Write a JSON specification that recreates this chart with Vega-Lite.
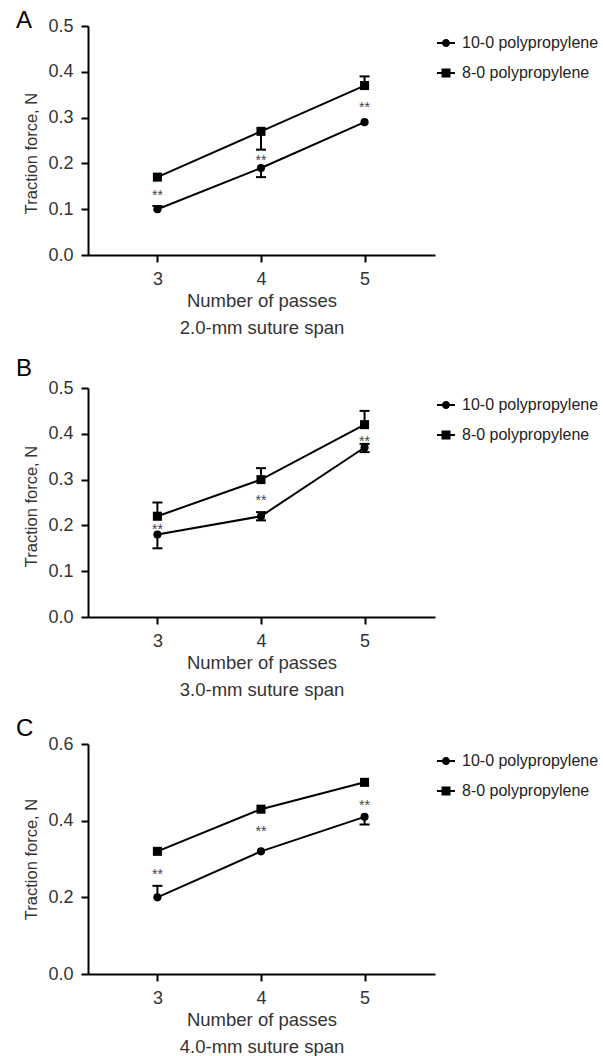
{
  "$schema": "https://vega.github.io/schema/vega-lite/v6.json",
  "padding": {"left": 15, "top": 9, "right": 3, "bottom": 0},
  "background": "white",
  "config": {
    "view": {"stroke": null},
    "font": "Liberation Sans",
    "axis": {"domainColor": "#000", "domainWidth": 2, "tickColor": "#000", "tickWidth": 2, "tickSize": 7, "labelFontSize": 18, "labelColor": "#333", "titleFontWeight": "normal", "titleColor": "#333", "grid": false, "labelFont": "Liberation Sans", "titleFont": "Liberation Sans"},
    "axisX": {"labelPadding": 8, "titlePadding": 3, "titleLineHeight": 27, "titleFontSize": 18.5},
    "axisY": {"labelPadding": 8, "titlePadding": 8, "titleFontSize": 16.5},
    "title": {"font": "Liberation Sans", "fontSize": 24, "fontWeight": "normal", "color": "#000", "anchor": "start", "frame": "bounds", "baseline": "alphabetic", "offset": 0},
    "legend": {"labelFont": "Liberation Sans", "labelFontSize": 16, "labelColor": "#222", "symbolSize": 144, "symbolFillColor": "#000", "symbolStrokeColor": "#000", "symbolStrokeWidth": 0, "symbolOpacity": 1, "labelOffset": 8, "rowPadding": 14, "padding": 0}
  },
  "datasets": {
    "main": [
      {"panel": "A", "series": "10-0 polypropylene", "passes": 3, "force": 0.10},
      {"panel": "A", "series": "10-0 polypropylene", "passes": 4, "force": 0.19},
      {"panel": "A", "series": "10-0 polypropylene", "passes": 5, "force": 0.29},
      {"panel": "A", "series": "8-0 polypropylene", "passes": 3, "force": 0.17},
      {"panel": "A", "series": "8-0 polypropylene", "passes": 4, "force": 0.27},
      {"panel": "A", "series": "8-0 polypropylene", "passes": 5, "force": 0.37},
      {"panel": "B", "series": "10-0 polypropylene", "passes": 3, "force": 0.18},
      {"panel": "B", "series": "10-0 polypropylene", "passes": 4, "force": 0.22},
      {"panel": "B", "series": "10-0 polypropylene", "passes": 5, "force": 0.37},
      {"panel": "B", "series": "8-0 polypropylene", "passes": 3, "force": 0.22},
      {"panel": "B", "series": "8-0 polypropylene", "passes": 4, "force": 0.30},
      {"panel": "B", "series": "8-0 polypropylene", "passes": 5, "force": 0.42},
      {"panel": "C", "series": "10-0 polypropylene", "passes": 3, "force": 0.20},
      {"panel": "C", "series": "10-0 polypropylene", "passes": 4, "force": 0.32},
      {"panel": "C", "series": "10-0 polypropylene", "passes": 5, "force": 0.41},
      {"panel": "C", "series": "8-0 polypropylene", "passes": 3, "force": 0.32},
      {"panel": "C", "series": "8-0 polypropylene", "passes": 4, "force": 0.43},
      {"panel": "C", "series": "8-0 polypropylene", "passes": 5, "force": 0.50}
    ],
    "err": [
      {"panel": "A", "series": "10-0 polypropylene", "passes": 3, "mean": 0.10, "tip": 0.107},
      {"panel": "A", "series": "10-0 polypropylene", "passes": 4, "mean": 0.19, "tip": 0.17},
      {"panel": "A", "series": "8-0 polypropylene", "passes": 4, "mean": 0.27, "tip": 0.23},
      {"panel": "A", "series": "8-0 polypropylene", "passes": 5, "mean": 0.37, "tip": 0.39},
      {"panel": "B", "series": "10-0 polypropylene", "passes": 3, "mean": 0.18, "tip": 0.15},
      {"panel": "B", "series": "10-0 polypropylene", "passes": 4, "mean": 0.22, "tip": 0.211},
      {"panel": "B", "series": "10-0 polypropylene", "passes": 4, "mean": 0.22, "tip": 0.229},
      {"panel": "B", "series": "10-0 polypropylene", "passes": 5, "mean": 0.37, "tip": 0.36},
      {"panel": "B", "series": "10-0 polypropylene", "passes": 5, "mean": 0.37, "tip": 0.378},
      {"panel": "B", "series": "8-0 polypropylene", "passes": 3, "mean": 0.22, "tip": 0.25},
      {"panel": "B", "series": "8-0 polypropylene", "passes": 4, "mean": 0.30, "tip": 0.325},
      {"panel": "B", "series": "8-0 polypropylene", "passes": 5, "mean": 0.42, "tip": 0.45},
      {"panel": "C", "series": "10-0 polypropylene", "passes": 3, "mean": 0.20, "tip": 0.23},
      {"panel": "C", "series": "10-0 polypropylene", "passes": 5, "mean": 0.41, "tip": 0.39}
    ],
    "stars": [
      {"panel": "A", "passes": 3, "y": 0.137},
      {"panel": "A", "passes": 4, "y": 0.213},
      {"panel": "A", "passes": 5, "y": 0.329},
      {"panel": "B", "passes": 3, "y": 0.198},
      {"panel": "B", "passes": 4, "y": 0.263},
      {"panel": "B", "passes": 5, "y": 0.391},
      {"panel": "C", "passes": 3, "y": 0.268},
      {"panel": "C", "passes": 4, "y": 0.381},
      {"panel": "C", "passes": 5, "y": 0.449}
    ]
  },
  "bounds": "flush",
  "spacing": 133,
  "resolve": {"scale": {"x": "independent", "y": "independent", "shape": "independent"}, "legend": {"shape": "independent"}},
  "vconcat": [
    {
      "width": 347, "height": 229,
      "title": {"text": "A", "dx": -8, "dy": 20},
      "layer": [
        {"data": {"name": "main"}, "transform": [{"filter": "datum.panel === 'A'"}],
         "mark": {"type": "line", "color": "#000", "strokeWidth": 2},
         "encoding": {
           "x": {"field": "passes", "type": "quantitative", "scale": {"domain": [2.33, 5.68], "nice": false, "zero": false}, "axis": {"values": [3, 4, 5], "format": "d", "title": ["Number of passes", "2.0-mm suture span"]}},
           "y": {"field": "force", "type": "quantitative", "scale": {"domain": [0, 0.5], "nice": false}, "axis": {"values": [0, 0.1, 0.2, 0.3, 0.4, 0.5], "format": ".1f", "title": "Traction force, N", "titleY": 127}},
           "detail": {"field": "series"}}},
        {"data": {"name": "err"}, "transform": [{"filter": "datum.panel === 'A'"}],
         "mark": {"type": "rule", "color": "#000", "strokeWidth": 2},
         "encoding": {"x": {"field": "passes", "type": "quantitative"}, "y": {"field": "mean", "type": "quantitative"}, "y2": {"field": "tip"}}},
        {"data": {"name": "err"}, "transform": [{"filter": "datum.panel === 'A'"}],
         "mark": {"type": "tick", "color": "#000", "orient": "horizontal", "size": 10, "thickness": 2, "opacity": 1},
         "encoding": {"x": {"field": "passes", "type": "quantitative"}, "y": {"field": "tip", "type": "quantitative"}}},
        {"data": {"name": "main"}, "transform": [{"filter": "datum.panel === 'A'"}],
         "mark": {"type": "point", "filled": true, "color": "#000", "opacity": 0},
         "encoding": {
           "x": {"field": "passes", "type": "quantitative"},
           "y": {"field": "force", "type": "quantitative"},
           "shape": {"field": "series", "type": "nominal", "scale": {"domain": ["10-0 polypropylene", "8-0 polypropylene"], "range": ["M-1.5,-0.167H-0.6V0.167H-1.5Z M0.6,-0.167H1.5V0.167H0.6Z M0.67,0A0.67,0.67,0,1,1,-0.67,0A0.67,0.67,0,1,1,0.67,0Z", "M-1.5,-0.167H-0.7V0.167H-1.5Z M0.7,-0.167H1.5V0.167H0.7Z M-0.75,-0.75H0.75V0.75H-0.75Z"]},
             "legend": {"orient": "none", "legendX": 350, "legendY": 9, "title": null, "symbolOpacity": 1, "symbolSize": 144, "symbolFillColor": "#000"}}}},
        {"data": {"name": "main"}, "transform": [{"filter": "datum.panel === 'A' && datum.series === '10-0 polypropylene'"}],
         "mark": {"type": "point", "shape": "circle", "filled": true, "color": "#000", "opacity": 1, "size": 66},
         "encoding": {"x": {"field": "passes", "type": "quantitative"}, "y": {"field": "force", "type": "quantitative"}}},
        {"data": {"name": "main"}, "transform": [{"filter": "datum.panel === 'A' && datum.series === '8-0 polypropylene'"}],
         "mark": {"type": "point", "shape": "square", "filled": true, "color": "#000", "opacity": 1, "size": 82},
         "encoding": {"x": {"field": "passes", "type": "quantitative"}, "y": {"field": "force", "type": "quantitative"}}},
        {"data": {"name": "stars"}, "transform": [{"filter": "datum.panel === 'A'"}],
         "mark": {"type": "text", "text": "**", "fontSize": 14, "color": "#444", "baseline": "alphabetic", "dy": 8},
         "encoding": {"x": {"field": "passes", "type": "quantitative"}, "y": {"field": "y", "type": "quantitative"}}}
      ]
    },
    {
      "bounds": "flush",
      "spacing": 127,
      "resolve": {"scale": {"x": "independent", "y": "independent", "shape": "independent"}, "legend": {"shape": "independent"}},
      "vconcat": [
        {
          "width": 347, "height": 229,
          "title": {"text": "B", "dx": -8, "dy": 6},
          "layer": [
            {"data": {"name": "main"}, "transform": [{"filter": "datum.panel === 'B'"}],
             "mark": {"type": "line", "color": "#000", "strokeWidth": 2},
             "encoding": {
               "x": {"field": "passes", "type": "quantitative", "scale": {"domain": [2.33, 5.68], "nice": false, "zero": false}, "axis": {"values": [3, 4, 5], "format": "d", "title": ["Number of passes", "3.0-mm suture span"]}},
               "y": {"field": "force", "type": "quantitative", "scale": {"domain": [0, 0.5], "nice": false}, "axis": {"values": [0, 0.1, 0.2, 0.3, 0.4, 0.5], "format": ".1f", "title": "Traction force, N", "titleY": 118}},
               "detail": {"field": "series"}}},
            {"data": {"name": "err"}, "transform": [{"filter": "datum.panel === 'B'"}],
             "mark": {"type": "rule", "color": "#000", "strokeWidth": 2},
             "encoding": {"x": {"field": "passes", "type": "quantitative"}, "y": {"field": "mean", "type": "quantitative"}, "y2": {"field": "tip"}}},
            {"data": {"name": "err"}, "transform": [{"filter": "datum.panel === 'B'"}],
             "mark": {"type": "tick", "color": "#000", "orient": "horizontal", "size": 10, "thickness": 2, "opacity": 1},
             "encoding": {"x": {"field": "passes", "type": "quantitative"}, "y": {"field": "tip", "type": "quantitative"}}},
            {"data": {"name": "main"}, "transform": [{"filter": "datum.panel === 'B'"}],
             "mark": {"type": "point", "filled": true, "color": "#000", "opacity": 0},
             "encoding": {
               "x": {"field": "passes", "type": "quantitative"},
               "y": {"field": "force", "type": "quantitative"},
               "shape": {"field": "series", "type": "nominal", "scale": {"domain": ["10-0 polypropylene", "8-0 polypropylene"], "range": ["M-1.5,-0.167H-0.6V0.167H-1.5Z M0.6,-0.167H1.5V0.167H0.6Z M0.67,0A0.67,0.67,0,1,1,-0.67,0A0.67,0.67,0,1,1,0.67,0Z", "M-1.5,-0.167H-0.7V0.167H-1.5Z M0.7,-0.167H1.5V0.167H0.7Z M-0.75,-0.75H0.75V0.75H-0.75Z"]},
                 "legend": {"orient": "none", "legendX": 350, "legendY": 9, "title": null, "symbolOpacity": 1, "symbolSize": 144, "symbolFillColor": "#000"}}}},
            {"data": {"name": "main"}, "transform": [{"filter": "datum.panel === 'B' && datum.series === '10-0 polypropylene'"}],
             "mark": {"type": "point", "shape": "circle", "filled": true, "color": "#000", "opacity": 1, "size": 66},
             "encoding": {"x": {"field": "passes", "type": "quantitative"}, "y": {"field": "force", "type": "quantitative"}}},
            {"data": {"name": "main"}, "transform": [{"filter": "datum.panel === 'B' && datum.series === '8-0 polypropylene'"}],
             "mark": {"type": "point", "shape": "square", "filled": true, "color": "#000", "opacity": 1, "size": 82},
             "encoding": {"x": {"field": "passes", "type": "quantitative"}, "y": {"field": "force", "type": "quantitative"}}},
            {"data": {"name": "stars"}, "transform": [{"filter": "datum.panel === 'B'"}],
             "mark": {"type": "text", "text": "**", "fontSize": 14, "color": "#444", "baseline": "alphabetic", "dy": 8},
             "encoding": {"x": {"field": "passes", "type": "quantitative"}, "y": {"field": "y", "type": "quantitative"}}}
          ]
        },
        {
          "width": 347, "height": 230,
          "title": {"text": "C", "dx": -8, "dy": 10},
          "layer": [
            {"data": {"name": "main"}, "transform": [{"filter": "datum.panel === 'C'"}],
             "mark": {"type": "line", "color": "#000", "strokeWidth": 2},
             "encoding": {
               "x": {"field": "passes", "type": "quantitative", "scale": {"domain": [2.33, 5.68], "nice": false, "zero": false}, "axis": {"values": [3, 4, 5], "format": "d", "title": ["Number of passes", "4.0-mm suture span"]}},
               "y": {"field": "force", "type": "quantitative", "scale": {"domain": [0, 0.6], "nice": false}, "axis": {"values": [0, 0.2, 0.4, 0.6], "format": ".1f", "title": "Traction force, N"}},
               "detail": {"field": "series"}}},
            {"data": {"name": "err"}, "transform": [{"filter": "datum.panel === 'C'"}],
             "mark": {"type": "rule", "color": "#000", "strokeWidth": 2},
             "encoding": {"x": {"field": "passes", "type": "quantitative"}, "y": {"field": "mean", "type": "quantitative"}, "y2": {"field": "tip"}}},
            {"data": {"name": "err"}, "transform": [{"filter": "datum.panel === 'C'"}],
             "mark": {"type": "tick", "color": "#000", "orient": "horizontal", "size": 10, "thickness": 2, "opacity": 1},
             "encoding": {"x": {"field": "passes", "type": "quantitative"}, "y": {"field": "tip", "type": "quantitative"}}},
            {"data": {"name": "main"}, "transform": [{"filter": "datum.panel === 'C'"}],
             "mark": {"type": "point", "filled": true, "color": "#000", "opacity": 0},
             "encoding": {
               "x": {"field": "passes", "type": "quantitative"},
               "y": {"field": "force", "type": "quantitative"},
               "shape": {"field": "series", "type": "nominal", "scale": {"domain": ["10-0 polypropylene", "8-0 polypropylene"], "range": ["M-1.5,-0.167H-0.6V0.167H-1.5Z M0.6,-0.167H1.5V0.167H0.6Z M0.67,0A0.67,0.67,0,1,1,-0.67,0A0.67,0.67,0,1,1,0.67,0Z", "M-1.5,-0.167H-0.7V0.167H-1.5Z M0.7,-0.167H1.5V0.167H0.7Z M-0.75,-0.75H0.75V0.75H-0.75Z"]},
                 "legend": {"orient": "none", "legendX": 350, "legendY": 9, "title": null, "symbolOpacity": 1, "symbolSize": 144, "symbolFillColor": "#000"}}}},
            {"data": {"name": "main"}, "transform": [{"filter": "datum.panel === 'C' && datum.series === '10-0 polypropylene'"}],
             "mark": {"type": "point", "shape": "circle", "filled": true, "color": "#000", "opacity": 1, "size": 66},
             "encoding": {"x": {"field": "passes", "type": "quantitative"}, "y": {"field": "force", "type": "quantitative"}}},
            {"data": {"name": "main"}, "transform": [{"filter": "datum.panel === 'C' && datum.series === '8-0 polypropylene'"}],
             "mark": {"type": "point", "shape": "square", "filled": true, "color": "#000", "opacity": 1, "size": 82},
             "encoding": {"x": {"field": "passes", "type": "quantitative"}, "y": {"field": "force", "type": "quantitative"}}},
            {"data": {"name": "stars"}, "transform": [{"filter": "datum.panel === 'C'"}],
             "mark": {"type": "text", "text": "**", "fontSize": 14, "color": "#444", "baseline": "alphabetic", "dy": 8},
             "encoding": {"x": {"field": "passes", "type": "quantitative"}, "y": {"field": "y", "type": "quantitative"}}}
          ]
        }
      ]
    }
  ]
}
